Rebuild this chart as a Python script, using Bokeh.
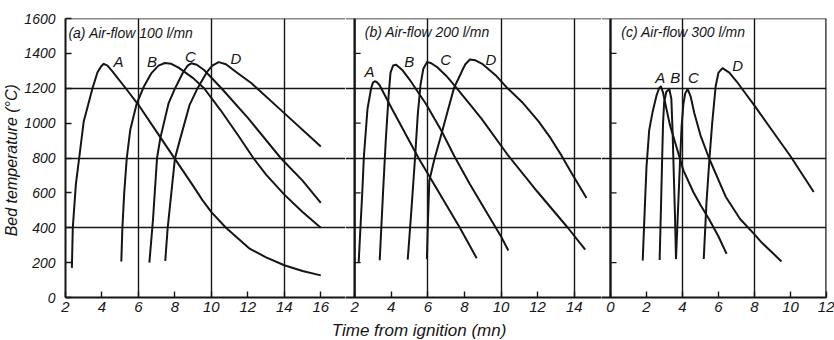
from bokeh.plotting import figure
from bokeh.models import Range1d, FixedTicker, Span, Label, Grid
from bokeh.layouts import row, column
from bokeh.embed import file_html
from bokeh.resources import INLINE
from bokeh.core.properties import value

FONT = "Liberation Sans"
INK = "#151515"

# ---------------- data (time in mn, bed temperature in degC) ----------------
# (a) air-flow 100 l/mn
a_A_time = [2.35, 2.40, 2.57, 2.75, 3.00, 3.48, 3.75, 3.95, 4.10, 4.30, 4.55, 5.30, 6.00, 7.00, 8.00, 9.00, 9.50, 10.0, 10.8, 12.1, 13.0, 14.0, 15.0, 16.0]
a_A_temp = [170, 400, 650, 800, 1010, 1200, 1290, 1325, 1340, 1330, 1300, 1200, 1105, 950, 795, 640, 560, 490, 400, 280, 230, 185, 152, 127]
a_B_time = [5.06, 5.12, 5.22, 5.36, 5.55, 5.90, 6.30, 6.70, 7.10, 7.45, 7.80, 8.20, 9.00, 9.60, 10.5, 11.5, 12.3, 13.0, 14.0, 15.0, 16.0]
a_B_temp = [206, 400, 600, 800, 960, 1110, 1210, 1285, 1330, 1345, 1340, 1318, 1258, 1200, 1075, 925, 800, 705, 590, 490, 400]
a_C_time = [6.60, 6.80, 7.02, 7.20, 7.65, 8.00, 8.45, 8.70, 8.90, 9.20, 9.60, 10.55, 12.0, 13.8, 15.0, 16.0]
a_C_temp = [200, 450, 800, 914, 1113, 1198, 1292, 1330, 1343, 1335, 1305, 1200, 1030, 800, 670, 543]
a_D_time = [7.47, 7.60, 8.00, 8.30, 8.80, 9.25, 9.75, 10.05, 10.4, 10.8, 11.34, 12.2, 12.5, 13.8, 16.0]
a_D_temp = [210, 395, 797, 914, 1103, 1202, 1292, 1330, 1350, 1338, 1295, 1229, 1200, 1076, 866]

# (b) air-flow 200 l/mn
b_A_time = [2.22, 2.43, 2.50, 2.70, 2.90, 3.00, 3.10, 3.20, 3.35, 3.60, 4.00, 5.49, 7.75, 8.67]
b_A_temp = [201, 632, 800, 1080, 1200, 1232, 1240, 1236, 1220, 1170, 1090, 800, 400, 225]
b_B_time = [3.37, 3.55, 3.70, 3.85, 3.96, 4.10, 4.27, 4.60, 5.00, 5.90, 6.75, 7.45, 8.30, 9.20, 10.0, 10.4]
b_B_temp = [214, 600, 900, 1150, 1290, 1330, 1335, 1305, 1250, 1110, 955, 810, 650, 490, 350, 270]
b_C_time = [4.90, 5.10, 5.30, 5.45, 5.60, 5.75, 5.95, 6.15, 6.50, 7.00, 7.44, 8.38, 8.95, 10.35, 12.0, 13.65, 14.6]
b_C_temp = [217, 500, 800, 1050, 1220, 1310, 1350, 1345, 1322, 1272, 1218, 1097, 1023, 820, 605, 400, 274]
b_D_time = [5.95, 6.00, 6.08, 6.35, 6.70, 7.10, 7.44, 7.65, 7.87, 8.05, 8.30, 8.60, 9.00, 9.70, 10.27, 11.2, 12.05, 12.7, 13.3, 13.9, 14.67]
b_D_temp = [220, 420, 669, 790, 920, 1075, 1205, 1250, 1300, 1338, 1365, 1360, 1338, 1275, 1209, 1115, 1010, 915, 815, 705, 570]

# (c) air-flow 300 l/mn
c_A_time = [1.79, 1.90, 2.00, 2.15, 2.35, 2.56, 2.70, 2.80, 2.92, 3.05, 3.30, 3.62, 4.05, 4.60, 5.00, 5.50, 6.00, 6.45]
c_A_temp = [212, 500, 750, 960, 1070, 1160, 1200, 1210, 1175, 1110, 990, 879, 729, 605, 530, 445, 350, 250]
c_B_time = [2.73, 2.80, 2.87, 2.92, 2.98, 3.10, 3.27, 3.38, 3.45, 3.51, 3.58, 3.64]
c_B_temp = [215, 500, 800, 1000, 1120, 1180, 1195, 1140, 950, 730, 480, 220]
c_C_time = [3.64, 3.75, 3.85, 3.95, 4.05, 4.15, 4.29, 4.46, 4.65, 5.00, 5.47, 6.40, 7.20, 8.00, 8.40, 9.50]
c_C_temp = [225, 500, 750, 980, 1110, 1170, 1195, 1150, 1060, 930, 800, 578, 450, 362, 315, 207]
c_D_time = [5.18, 5.33, 5.50, 5.65, 5.84, 6.00, 6.22, 6.60, 7.00, 7.50, 8.00, 9.00, 10.0, 11.29]
c_D_temp = [221, 541, 800, 1000, 1210, 1290, 1315, 1290, 1240, 1170, 1100, 955, 810, 605]

curve_names = ["A", "B", "C", "D"]
temp_ticks = [0, 200, 400, 600, 800, 1000, 1200, 1400, 1600]
temp_grid = [400, 800, 1200]
temp_minor = [200, 600, 1000, 1400]
a_time_ticks = [2, 4, 6, 8, 10, 12, 14, 16]
b_time_ticks = [2, 4, 6, 8, 10, 12, 14]
c_time_ticks = [0, 2, 4, 6, 8, 10, 12]
a_time_grid = [6, 10, 14]
b_time_grid = [6, 10, 14]
c_time_grid = [4, 8]
titles = ["(a)  Air-flow  100 l/mn", "(b)  Air-flow  200 l/mn", "(c)  Air-flow  300 l/mn"]
x_title = "Time  from  ignition   (mn)"
y_title = "Bed temperature  (°C)"

TOP = 18
FRAME = 279
BOTTOM = 22
ROW_H = TOP + FRAME + BOTTOM   # 319
STRIP_H = 21


def make_panel(xr, width, ticks, grid_x, curves, label_pos, title, title_pos,
               first=False, divider=None, right_edge=None, right_border=0):
    p = figure(width=width, height=ROW_H,
               x_range=Range1d(*xr), y_range=Range1d(0, 1600),
               toolbar_location=None, output_backend="svg",
               y_axis_location="left" if first else None,
               min_border_top=TOP, min_border_bottom=BOTTOM,
               min_border_left=64 if first else 0, min_border_right=right_border)
    p.outline_line_color = None
    p.background_fill_color = "white"
    p.border_fill_color = "white"
    p.grid.visible = False
    p.add_layout(Grid(dimension=0, ticker=FixedTicker(ticks=grid_x),
                      grid_line_color=INK, grid_line_width=1.4))
    p.add_layout(Grid(dimension=1, ticker=FixedTicker(ticks=temp_grid),
                      grid_line_color=INK, grid_line_width=1.4))

    ax = p.xaxis[0]
    ax.ticker = FixedTicker(ticks=ticks)
    ax.axis_line_color = INK
    ax.axis_line_width = 2
    ax.major_tick_in = 6
    ax.major_tick_out = 0
    ax.major_tick_line_color = INK
    ax.major_tick_line_width = 1.4
    ax.minor_tick_line_color = None
    ax.major_label_standoff = 4
    ax.major_label_text_font = FONT
    ax.major_label_text_font_style = "italic"
    ax.major_label_text_font_size = "15px"
    ax.major_label_text_color = INK

    if first:
        ay = p.yaxis[0]
        ay.ticker = FixedTicker(ticks=temp_ticks)
        ay.axis_line_color = INK
        ay.axis_line_width = 2
        ay.major_tick_in = 6
        ay.major_tick_out = 0
        ay.major_tick_line_color = INK
        ay.major_tick_line_width = 1.4
        ay.minor_tick_line_color = None
        ay.major_label_standoff = 10
        ay.major_label_text_font = FONT
        ay.major_label_text_font_style = "italic"
        ay.major_label_text_font_size = "14px"
        ay.major_label_text_color = INK
        ay.axis_label = y_title
        ay.axis_label_standoff = 1
        ay.axis_label_text_font = FONT
        ay.axis_label_text_font_style = "italic"
        ay.axis_label_text_font_size = "16px"
        ay.axis_label_text_color = INK

    # top frame line
    p.add_layout(Span(location=1600, dimension="width", line_color=INK, line_width=1.6))
    if divider is not None:
        p.add_layout(Span(location=divider, dimension="height", line_color=INK, line_width=2.4))
        p.ray(x=[divider] * len(temp_minor), y=temp_minor, length=6, length_units="screen",
              angle=0, line_color=INK, line_width=1.4)
    if right_edge is not None:
        p.add_layout(Span(location=right_edge, dimension="height", line_color=INK, line_width=2.4))

    for (t, T) in curves:
        p.line(t, T, line_color=INK, line_width=2.0, line_join="round")

    p.text(x=[q[0] for q in label_pos], y=[q[1] for q in label_pos], text=curve_names,
           text_font=value(FONT), text_font_style="italic", text_font_size="15px",
           text_align="center", text_baseline="middle", text_color=INK)
    p.add_layout(Label(x=title_pos[0], y=title_pos[1], text=title, text_font=FONT,
                       text_font_style="italic", text_font_size="14px",
                       text_baseline="middle", text_align="left", text_color=INK))
    return p


pa = make_panel((2, 17.355), 345, a_time_ticks, a_time_grid,
                [(a_A_time, a_A_temp), (a_B_time, a_B_temp), (a_C_time, a_C_temp), (a_D_time, a_D_temp)],
                [(4.9, 1356), (6.74, 1356), (8.85, 1383), (11.34, 1368)],
                titles[0], (2.16, 1515), first=True)
pb = make_panel((1.5, 15.49), 256, b_time_ticks, b_time_grid,
                [(b_A_time, b_A_temp), (b_B_time, b_B_temp), (b_C_time, b_C_temp), (b_D_time, b_D_temp)],
                [(2.81, 1297), (4.98, 1354), (6.98, 1363), (9.45, 1363)],
                titles[1], (2.55, 1520), divider=2)
pc = make_panel((-0.5, 12.0), 233, c_time_ticks, c_time_grid,
                [(c_A_time, c_A_temp), (c_B_time, c_B_temp), (c_C_time, c_C_temp), (c_D_time, c_D_temp)],
                [(2.77, 1262), (3.6, 1262), (4.6, 1262), (7.06, 1330)],
                titles[2], (0.6, 1522), divider=0, right_edge=12, right_border=8)

strip = figure(width=834, height=STRIP_H, x_range=Range1d(0, 834), y_range=Range1d(0, STRIP_H),
               toolbar_location=None, output_backend="svg", min_border=0,
               x_axis_location=None, y_axis_location=None)
strip.outline_line_color = None
strip.grid.visible = False
strip.add_layout(Label(x=428, y=10, text=x_title, text_font=FONT,
                       text_font_style="italic", text_font_size="17px",
                       text_align="center", text_baseline="middle", text_color=INK))

layout = column(row(pa, pb, pc), strip)
open("out.html", "w").write(file_html(layout, INLINE))
